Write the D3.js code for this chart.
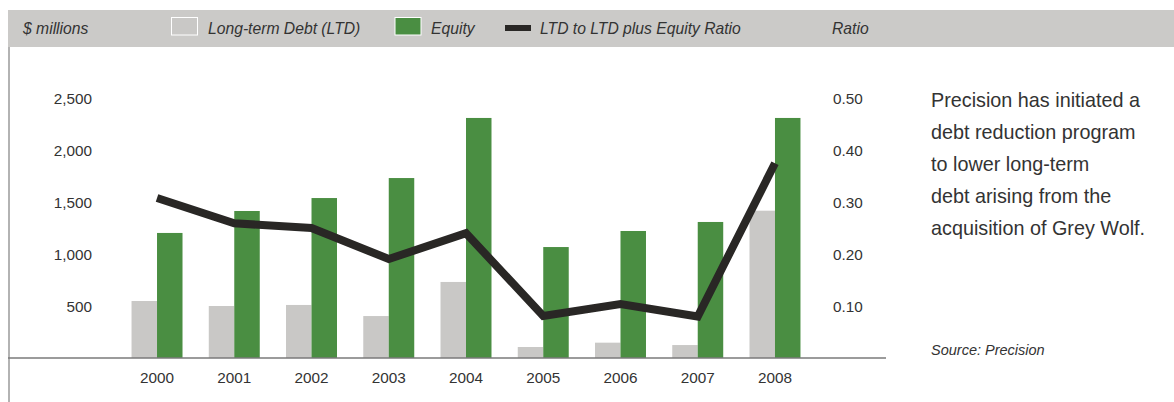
<!DOCTYPE html>
<html>
<head>
<meta charset="utf-8">
<script src="https://cdn.jsdelivr.net/npm/d3@7"></script>
<style>
  html, body { margin: 0; padding: 0; background: #fff; }
  svg { display: block; font-family: "Liberation Sans", Arial, Helvetica, sans-serif; }
</style>
</head>
<body>
<svg id="chart" width="1174" height="402"></svg>
<script>
// ---- data ----
const years = ["2000","2001","2002","2003","2004","2005","2006","2007","2008"];
const ltd    = [550, 502, 512, 405, 734, 106, 148, 125, 1422];
const equity = [1207, 1419, 1544, 1737, 2317, 1071, 1226, 1313, 2317];
const ratio  = [0.309, 0.26, 0.251, 0.191, 0.241, 0.081, 0.104, 0.080, 0.376];
const leftTicks  = [500, 1000, 1500, 2000, 2500];
const rightTicks = [0.10, 0.20, 0.30, 0.40, 0.50];
const legendItems = ["Long-term Debt (LTD)", "Equity", "LTD to LTD plus Equity Ratio"];
const noteLines = ["Precision has initiated a", "debt reduction program", "to lower long-term", "debt arising from the", "acquisition of Grey Wolf."];

const C = { ltd: "#c9c8c6", eq: "#4a8e42", line: "#292725", text: "#333333", band: "#cbcac8" };

const svg = d3.select("#chart");

// scales
const x = d3.scaleBand().domain(years).range([118.4, 813.6]).paddingInner(0.34).paddingOuter(0.17);
const y = d3.scaleLinear().domain([0, 2500]).range([358, 99]);
const yr = d3.scaleLinear().domain([0, 0.5]).range([358, 99]);
const half = x.bandwidth() / 2;

// header band
svg.append("rect").attr("x", 8).attr("y", 10).attr("width", 1166).attr("height", 37).attr("fill", C.band);

// left frame line
svg.append("line").attr("x1", 9).attr("x2", 9).attr("y1", 47).attr("y2", 402)
  .attr("stroke", "#b3b3b3").attr("stroke-width", 2);

// header texts
const hdr = svg.append("g").attr("font-style", "italic").attr("font-size", 15.7).attr("fill", C.text);
hdr.append("text").attr("x", 23).attr("y", 33.5).text("$ millions");
hdr.append("text").attr("x", 832).attr("y", 33.5).text("Ratio");

// legend
svg.append("rect").attr("x", 171.5).attr("y", 17.5).attr("width", 26).attr("height", 17.5)
  .attr("fill", C.ltd).attr("stroke", "#fff").attr("stroke-width", 1);
hdr.append("text").attr("x", 208).attr("y", 33.5).text(legendItems[0]);
svg.append("rect").attr("x", 395).attr("y", 17.5).attr("width", 26).attr("height", 17.5)
  .attr("fill", C.eq).attr("stroke", "#fff").attr("stroke-width", 1);
hdr.append("text").attr("x", 431).attr("y", 33.5).text(legendItems[1]);
svg.append("rect").attr("x", 505).attr("y", 25).attr("width", 26).attr("height", 6).attr("fill", C.line);
hdr.append("text").attr("x", 540).attr("y", 33.5).text(legendItems[2]);

// bars
const g = svg.append("g");
g.selectAll("rect.ltd").data(years).join("rect").attr("class", "ltd")
  .attr("x", d => x(d)).attr("width", half)
  .attr("y", (d, i) => y(ltd[i])).attr("height", (d, i) => y(0) - y(ltd[i]))
  .attr("fill", C.ltd);
g.selectAll("rect.eq").data(years).join("rect").attr("class", "eq")
  .attr("x", d => x(d) + half).attr("width", half)
  .attr("y", (d, i) => y(equity[i])).attr("height", (d, i) => y(0) - y(equity[i]))
  .attr("fill", C.eq);

// baseline
svg.append("line").attr("x1", 8).attr("x2", 886).attr("y1", 358).attr("y2", 358)
  .attr("stroke", "#7a7a7a").attr("stroke-width", 1.5);

// ratio line
const line = d3.line().x((d, i) => x(years[i]) + half).y(d => yr(d));
svg.append("path").datum(ratio).attr("d", line).attr("fill", "none")
  .attr("stroke", C.line).attr("stroke-width", 8).attr("stroke-linejoin", "miter").attr("stroke-linecap", "butt");

// left axis
const axL = svg.append("g").attr("transform", "translate(92,0)")
  .call(d3.axisLeft(y).tickValues(leftTicks).tickFormat(d3.format(",")).tickSize(0).tickPadding(0));
axL.select(".domain").remove();
axL.selectAll("text").attr("font-size", 15.3).attr("fill", C.text).attr("font-family", null);

// right axis
const axR = svg.append("g").attr("transform", "translate(833,0)")
  .call(d3.axisRight(yr).tickValues(rightTicks).tickFormat(d3.format(".2f")).tickSize(0).tickPadding(0));
axR.select(".domain").remove();
axR.selectAll("text").attr("font-size", 15.3).attr("fill", C.text).attr("font-family", null);

// x axis
const axB = svg.append("g").attr("transform", "translate(0,372)")
  .call(d3.axisBottom(x).tickSize(0).tickPadding(0));
axB.select(".domain").remove();
axB.selectAll("text").attr("font-size", 15.3).attr("fill", C.text).attr("font-family", null);

// note
const note = svg.append("text").attr("x", 931).attr("font-size", 19.8).attr("fill", C.text);
noteLines.forEach((t, i) => {
  note.append("tspan").attr("x", 931).attr("y", 106.5 + i * 32.2).text(t);
});
svg.append("text").attr("x", 931).attr("y", 355).attr("font-size", 14.5).attr("font-style", "italic")
  .attr("fill", C.text).text("Source: Precision");
</script>
</body>
</html>
